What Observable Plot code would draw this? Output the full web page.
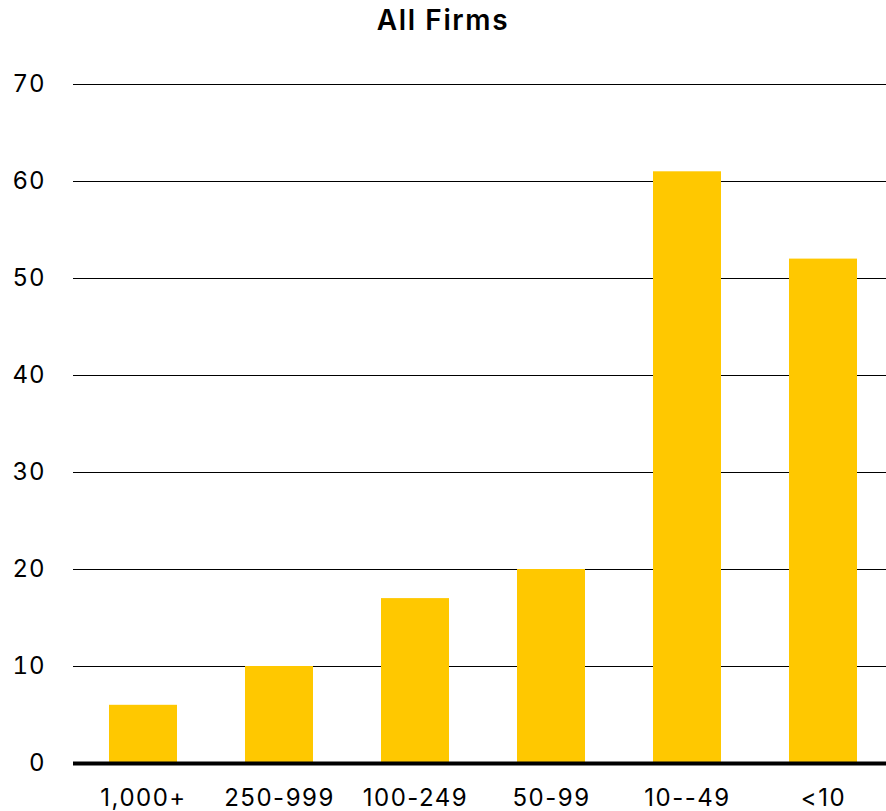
<!DOCTYPE html>
<html>
<head>
<meta charset="utf-8">
<script src="https://cdn.jsdelivr.net/npm/d3@7"></script>
<script src="https://cdn.jsdelivr.net/npm/@observablehq/plot@0.6"></script>
<style>
  html, body { margin: 0; padding: 0; background: #fff; overflow: hidden; width: 886px; height: 811px; }
  #title { font-family: Inter, "Noto Sans", sans-serif; font-weight: 600; font-size: 28px; letter-spacing: 1.6px; text-align: center; height: 40px; line-height: 40px; color: #000; }
  #chart svg g[aria-label="x-axis tick label"] text { letter-spacing: 1.5px; }
  #chart svg g[aria-label="y-axis tick label"] text { letter-spacing: 1px; }
</style>
</head>
<body>
<div id="title">All Firms</div>
<div id="chart"></div>
<script>
const categories = ["1,000+", "250-999", "100-249", "50-99", "10--49", "<10"];
const values = [6, 10, 17, 20, 61, 52];
const yTicks = [0, 10, 20, 30, 40, 50, 60, 70];

const data = categories.map((c, i) => ({category: c, value: values[i]}));

const chart = Plot.plot({
  width: 886,
  height: 790,
  marginTop: 44,
  marginBottom: 67,
  marginLeft: 73,
  marginRight: -6,
  style: {fontFamily: "Inter, 'Noto Sans', sans-serif", fontSize: "24px", color: "#000", background: "#fff", overflow: "visible"},
  x: {domain: categories, paddingInner: 0.5, paddingOuter: 0.25, label: null},
  y: {domain: [0, 70], label: null},
  marks: [
    Plot.gridY(yTicks.filter(d => d > 0), {stroke: "#000", strokeOpacity: 1, strokeWidth: 1}),
    Plot.barY(data, {x: "category", y: "value", fill: "#FFC800"}),
    Plot.ruleY([0], {stroke: "#000", strokeWidth: 4}),
    Plot.axisY(yTicks, {tickSize: 0, tickPadding: 28, label: null, fontSize: 24}),
    Plot.axisX({tickSize: 0, tickPadding: 25, label: null, fontSize: 24})
  ]
});
document.getElementById("chart").appendChild(chart);
</script>
</body>
</html>
